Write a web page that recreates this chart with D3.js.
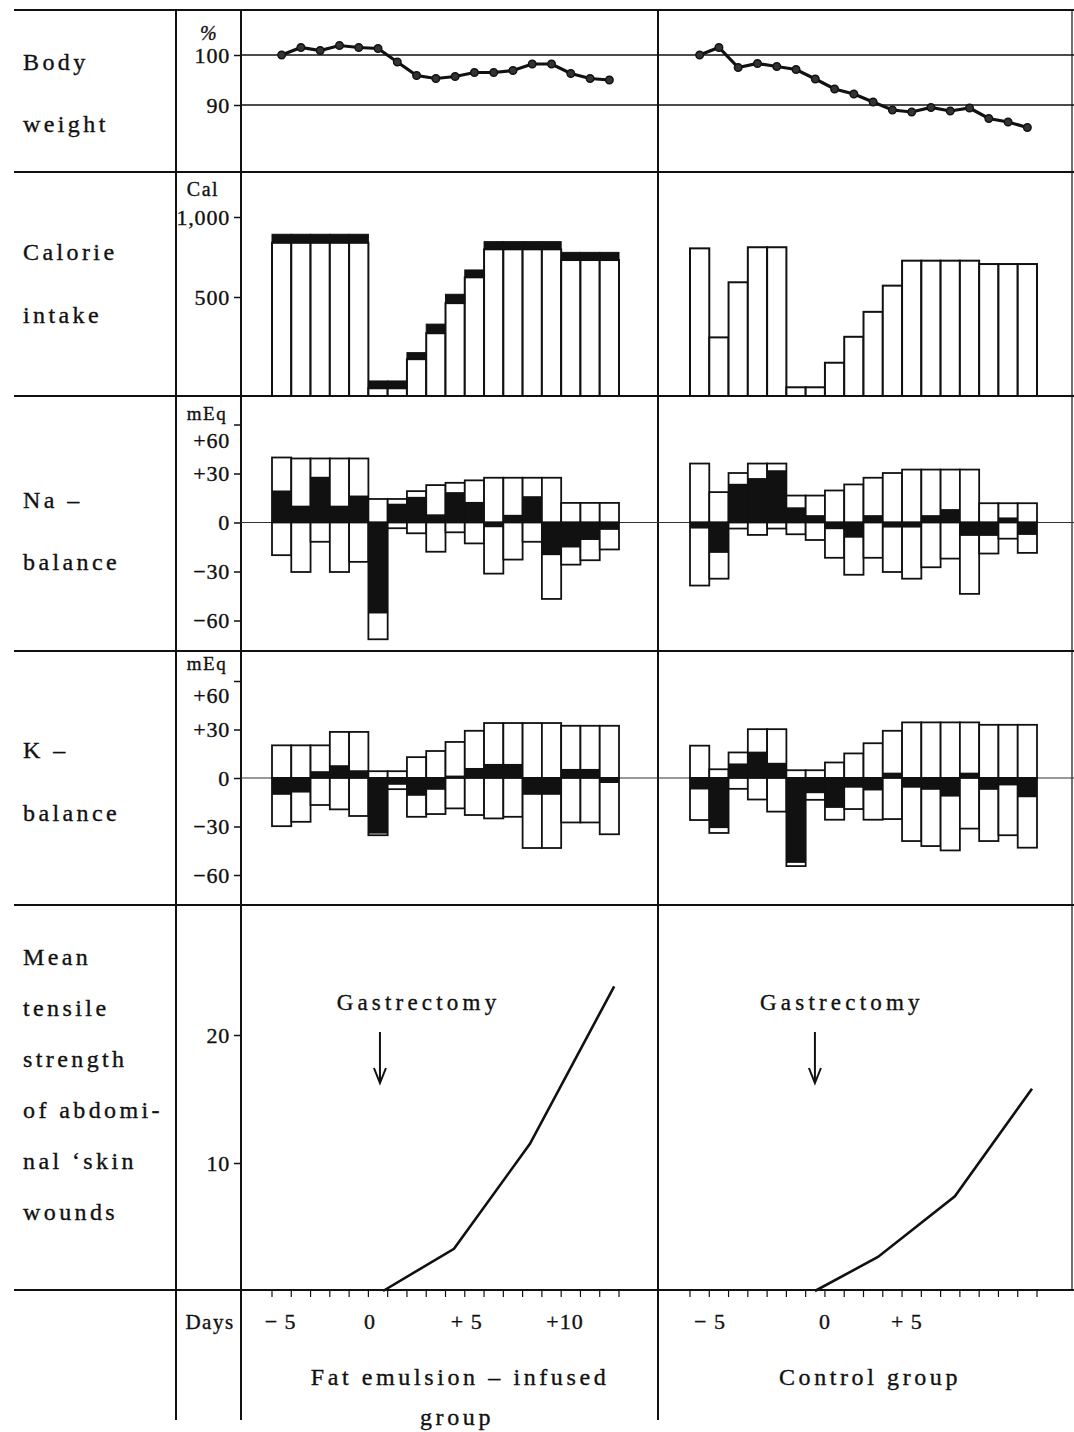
<!DOCTYPE html>
<html>
<head>
<meta charset="utf-8">
<script src="https://cdn.jsdelivr.net/npm/d3@7"></script>
<style>
  body { margin: 0; background: #fff; }
  text { font-family: "Liberation Serif", "DejaVu Serif", serif; fill: #111; stroke: #111; stroke-width: 0.35; }
</style>
</head>
<body>
<svg id="chart"></svg>
<script>
// ---- data (bar index 0..17 = one day each) ----
const weightFat  = [100.0, 101.5, 100.9, 101.9, 101.5, 101.3, 98.6, 95.9, 95.3, 95.7, 96.5, 96.5, 96.9, 98.2, 98.2, 96.3, 95.3, 95.0];
const weightCtrl = [100.0, 101.5, 97.5, 98.3, 97.7, 97.1, 95.2, 93.2, 92.2, 90.6, 89.0, 88.6, 89.5, 88.8, 89.4, 87.3, 86.6, 85.5];

const calFatBase  = [839, 839, 839, 839, 839, 39, 39, 186, 317, 469, 623, 798, 798, 798, 798, 731, 731, 731];
const calFatTotal = [892, 892, 892, 892, 892, 76, 76, 219, 363, 517, 669, 846, 846, 846, 846, 779, 779, 779];
const calCtrl     = [804, 296, 592, 811, 811, 44, 44, 168, 299, 425, 571, 727, 727, 727, 727, 706, 706, 706];

const naFatIn   = [39.8, 39.2, 39.2, 39.2, 39.2, 14.4, 14.4, 19.2, 22.9, 24.3, 25.8, 27.4, 27.4, 27.4, 27.4, 12, 12, 12];
const naFatOut  = [20, 30.3, 11.8, 30.3, 24.1, 71.5, 3.5, 6.6, 17.9, 6, 12.8, 31.3, 22.7, 11.8, 46.8, 25.8, 23.1, 16.5];
const naFatBal  = [19.6, 10.3, 28, 10.3, 16.5, -55.7, 11.5, 15.7, 5, 18.6, 12.6, -2.9, 4.7, 16.1, -20, -15.3, -10.7, -4.5];
const naCtrlIn  = [36.1, 18.6, 30.3, 36.1, 36.1, 16.5, 16.5, 19.6, 23.3, 27.4, 30.3, 32.4, 32.4, 32.4, 32.4, 11.8, 11.8, 11.8];
const naCtrlOut = [38.6, 34.4, 3.7, 7.6, 3.7, 7.2, 10.7, 21.6, 32, 21.6, 30.3, 34.4, 27.4, 22.1, 43.7, 19, 9.9, 18.6];
const naCtrlBal = [-3.7, -18.6, 23.7, 27.2, 32, 9.3, 4.5, -4.1, -9.3, 4.5, -3.1, -3.1, 4.5, 8.2, -8.2, -8.2, 3.1, -7.6];

const kFatIn   = [20.2, 20.2, 20.2, 28.5, 28.5, 4.2, 4.2, 12.9, 16.7, 22.3, 29.2, 34, 34, 34, 34, 32.3, 32.3, 32.3];
const kFatOut  = [29.8, 27.1, 16.7, 19.4, 23.5, 35.4, 6.9, 24, 22.3, 18.8, 22.9, 25, 24, 43.3, 43.3, 27.5, 27.5, 34.8];
const kFatBal  = [-10.4, -9, 4.2, 7.9, 4.8, -34.4, -4.2, -11, -7.3, 1.5, 6.2, 8.7, 8.7, -10.4, -10.4, 5.6, 5.6, -3.1];
const kCtrlIn  = [20, 5.4, 15.8, 30.2, 30.2, 4.8, 4.8, 9.6, 15.2, 21.5, 29.2, 34.4, 34.4, 34.4, 34.4, 32.9, 32.9, 32.9];
const kCtrlOut = [26, 34, 6.7, 13.3, 20.8, 54.5, 13.5, 25.8, 19.2, 25.8, 25.4, 39, 42.1, 44.8, 31.3, 39, 35.4, 43.1];
const kCtrlBal = [-7.1, -31, 9, 16.3, 9.4, -52.5, -9.4, -18.5, -6, -7.7, 3.3, -6, -7.3, -11.5, 3.3, -7.3, -4.6, -11.9];

// tensile strength: position in bar-index units, value
const tensFatPos  = [5.76, 9.44, 13.38, 17.75];
const tensFatVal  = [0, 3.3, 11.5, 23.8];
const tensCtrlPos = [6.48, 9.75, 13.74, 17.74];
const tensCtrlVal = [0, 2.66, 7.4, 15.8];

const dayLabelsFat  = ["\u2212 5", "0", "+ 5", "+10"];
const dayPosFat     = [0.45, 5.08, 10.1, 15.2];
const dayLabelsCtrl = ["\u2212 5", "0", "+ 5"];
const dayPosCtrl    = [1.04, 7.0, 11.25];
const surgeryPosFat = 5.6, surgeryPosCtrl = 6.48;

const weightTicks = [90, 100];
const calTicks = [500, 1000];
const mEqTicks = [60, 30, 0, -30, -60];
const tensTicks = [10, 20];

const rowLabels = [
  { lines: ["Body", "weight"], y: [70, 132] },
  { lines: ["Calorie", "intake"], y: [260, 323] },
  { lines: ["Na \u2013", "balance"], y: [508, 570] },
  { lines: ["K \u2013", "balance"], y: [758, 821] },
  { lines: ["Mean", "tensile", "strength", "of abdomi-", "nal \u2018skin", "wounds"], y: [965, 1016, 1067, 1118, 1169, 1220] }
];

// ---- drawing ----
const W = 1074, H = 1432;
const svg = d3.select('#chart').attr('width', W).attr('height', H);
svg.append('rect').attr('width', W).attr('height', H).attr('fill', '#fff');

const xFat = d3.scaleLinear().domain([0, 18]).range([272, 619]);
const xCtrl = d3.scaleLinear().domain([0, 18]).range([690, 1037]);

const yWeight = d3.scaleLinear().domain([90, 100]).range([105, 55]);
const yCal = d3.scaleLinear().domain([0, 500, 1000]).range([396, 297, 217]);
const yNa = d3.scaleLinear().domain([-60, 60]).range([620.5, 424.5]);
const yK = d3.scaleLinear().domain([-60, 60]).range([875, 681]);
const yTens = d3.scaleLinear().domain([0, 20]).range([1291, 1035]);

const panels = [
  { x: xFat, left: 241, right: 658, weight: weightFat, calBase: calFatBase, calTop: calFatTotal,
    naIn: naFatIn, naOut: naFatOut, naBal: naFatBal, kIn: kFatIn, kOut: kFatOut, kBal: kFatBal,
    tPos: tensFatPos, tVal: tensFatVal, days: dayLabelsFat, dayPos: dayPosFat, surgery: surgeryPosFat, title: 2.0 },
  { x: xCtrl, left: 658, right: 1074, weight: weightCtrl, calBase: calCtrl, calTop: null,
    naIn: naCtrlIn, naOut: naCtrlOut, naBal: naCtrlBal, kIn: kCtrlIn, kOut: kCtrlOut, kBal: kCtrlBal,
    tPos: tensCtrlPos, tVal: tensCtrlVal, days: dayLabelsCtrl, dayPos: dayPosCtrl, surgery: surgeryPosCtrl, title: 1.4 }
];

// grid of the table
const grid = svg.append('g').attr('stroke', '#111').attr('stroke-width', 2);
[10, 172, 396, 651, 905, 1290].forEach(y => {
  grid.append('line').attr('x1', 14).attr('x2', 1074).attr('y1', y).attr('y2', y);
});
[176, 241, 658].forEach(x => {
  grid.append('line').attr('x1', x).attr('x2', x).attr('y1', 10).attr('y2', 1420);
});
grid.append('line').attr('x1', 1072).attr('x2', 1072).attr('y1', 10).attr('y2', 1290).attr('stroke-width', 1.2);

// row labels
rowLabels.forEach(r => {
  r.lines.forEach((t, i) => {
    svg.append('text').attr('x', 23).attr('y', r.y[i])
      .attr('font-size', 24).attr('letter-spacing', 3.4).text(t);
  });
});

// left axes
function leftAxis(scale, ticks, fmt) {
  const g = svg.append('g').attr('transform', 'translate(241,0)')
    .call(d3.axisLeft(scale).tickValues(ticks).tickSize(7).tickPadding(4).tickFormat(fmt));
  g.select('.domain').remove();
  g.selectAll('line').attr('stroke', '#111').attr('stroke-width', 1.5);
  g.selectAll('text').attr('font-family', '"Liberation Serif", serif').attr('font-size', 22)
    .attr('letter-spacing', 0.8).attr('fill', '#111');
  return g;
}
const signed = d => d > 0 ? '+' + d : d < 0 ? '\u2212' + Math.abs(d) : '0';
leftAxis(yWeight, weightTicks, d3.format('d'));
leftAxis(yCal, calTicks, d3.format(','));
leftAxis(yNa, mEqTicks, signed).selectAll('.tick').filter(d => d === 60).select('text').attr('y', 16);
leftAxis(yK, mEqTicks, signed).selectAll('.tick').filter(d => d === 60).select('text').attr('y', 14);
leftAxis(yTens, tensTicks, d3.format('d'));

const units = [['%', 40, 209, 20], ['Cal', 196, 203, 20], ['mEq', 420, 207, 19], ['mEq', 670, 207, 19]];
units.forEach(([t, y, x, fs]) => {
  svg.append('text').attr('x', x).attr('y', y).attr('text-anchor', 'middle')
    .attr('font-size', fs).attr('letter-spacing', 1.5)
    .attr('font-style', t === '%' ? 'italic' : null).text(t);
});

// body weight reference lines
[100, 90].forEach(v => {
  svg.append('line').attr('x1', 241).attr('x2', 1074).attr('y1', yWeight(v)).attr('y2', yWeight(v))
    .attr('stroke', '#111').attr('stroke-width', 1.4);
});

panels.forEach(p => {
  const idx = d3.range(18);

  // body weight
  svg.append('path').datum(p.weight)
    .attr('fill', 'none').attr('stroke', '#111').attr('stroke-width', 3.2)
    .attr('d', d3.line().x((d, i) => p.x(i + 0.5)).y(d => yWeight(d)));
  svg.append('g').selectAll('circle').data(p.weight).join('circle')
    .attr('cx', (d, i) => p.x(i + 0.5)).attr('cy', d => yWeight(d)).attr('r', 3.8)
    .attr('fill', '#333').attr('stroke', '#111').attr('stroke-width', 1.4);

  // calorie intake
  const cal = svg.append('g');
  cal.selectAll('rect.base').data(idx).join('rect')
    .attr('x', i => p.x(i)).attr('width', p.x(1) - p.x(0))
    .attr('y', i => yCal(p.calBase[i])).attr('height', i => yCal(0) - yCal(p.calBase[i]))
    .attr('fill', '#fff').attr('stroke', '#111').attr('stroke-width', 2);
  if (p.calTop) {
    cal.selectAll('rect.top').data(idx).join('rect')
      .attr('x', i => p.x(i)).attr('width', p.x(1) - p.x(0))
      .attr('y', i => yCal(p.calTop[i])).attr('height', i => yCal(p.calBase[i]) - yCal(p.calTop[i]))
      .attr('fill', '#111').attr('stroke', '#111').attr('stroke-width', 1);
  }

  // Na and K balance
  [[yNa, p.naIn, p.naOut, p.naBal], [yK, p.kIn, p.kOut, p.kBal]].forEach(([y, inn, out, bal]) => {
    svg.append('line').attr('x1', p.left).attr('x2', p.right).attr('y1', y(0)).attr('y2', y(0))
      .attr('stroke', '#333').attr('stroke-width', 1.2);
    const g = svg.append('g');
    g.selectAll('rect.in').data(idx).join('rect')
      .attr('x', i => p.x(i)).attr('width', p.x(1) - p.x(0))
      .attr('y', i => y(inn[i])).attr('height', i => y(0) - y(inn[i]))
      .attr('fill', '#fff').attr('stroke', '#111').attr('stroke-width', 1.8);
    g.selectAll('rect.out').data(idx).join('rect')
      .attr('x', i => p.x(i)).attr('width', p.x(1) - p.x(0))
      .attr('y', y(0)).attr('height', i => y(-out[i]) - y(0))
      .attr('fill', '#fff').attr('stroke', '#111').attr('stroke-width', 1.8);
    g.selectAll('rect.bal').data(idx).join('rect')
      .attr('x', i => p.x(i)).attr('width', p.x(1) - p.x(0))
      .attr('y', i => y(Math.max(0, bal[i]))).attr('height', i => Math.abs(y(bal[i]) - y(0)))
      .attr('fill', '#111');
  });

  // tensile strength
  svg.append('path').datum(d3.zip(p.tPos, p.tVal))
    .attr('fill', 'none').attr('stroke', '#111').attr('stroke-width', 2.6)
    .attr('d', d3.line().x(d => p.x(d[0])).y(d => yTens(d[1])));

  // gastrectomy marker
  const sx = p.x(p.surgery);
  svg.append('text').attr('x', p.x(p.surgery + p.title)).attr('y', 1010).attr('text-anchor', 'middle')
    .attr('font-size', 23).attr('letter-spacing', 4.2).text('Gastrectomy');
  svg.append('line').attr('x1', sx).attr('x2', sx).attr('y1', 1032).attr('y2', 1082)
    .attr('stroke', '#111').attr('stroke-width', 2);
  svg.append('path').attr('d', `M${sx - 6},${1068} L${sx},${1083} L${sx + 6},${1068}`)
    .attr('fill', 'none').attr('stroke', '#111').attr('stroke-width', 2);

  // days axis
  svg.append('g').selectAll('line').data(d3.range(19)).join('line')
    .attr('x1', i => p.x(i)).attr('x2', i => p.x(i)).attr('y1', 1290).attr('y2', 1297)
    .attr('stroke', '#111').attr('stroke-width', 1.2);
  svg.append('g').selectAll('text').data(p.days).join('text')
    .attr('x', (d, i) => p.x(p.dayPos[i])).attr('y', 1329).attr('text-anchor', 'middle')
    .attr('font-size', 22).attr('letter-spacing', 1).text(d => d);
});

svg.append('text').attr('x', 210).attr('y', 1329).attr('text-anchor', 'middle')
  .attr('font-size', 21).attr('letter-spacing', 1.5).text('Days');
svg.append('text').attr('x', 460).attr('y', 1385).attr('text-anchor', 'middle')
  .attr('font-size', 24).attr('letter-spacing', 3.6).text('Fat emulsion \u2013 infused');
svg.append('text').attr('x', 457).attr('y', 1425).attr('text-anchor', 'middle')
  .attr('font-size', 24).attr('letter-spacing', 3.6).text('group');
svg.append('text').attr('x', 870).attr('y', 1385).attr('text-anchor', 'middle')
  .attr('font-size', 24).attr('letter-spacing', 3.6).text('Control group');
</script>
</body>
</html>
